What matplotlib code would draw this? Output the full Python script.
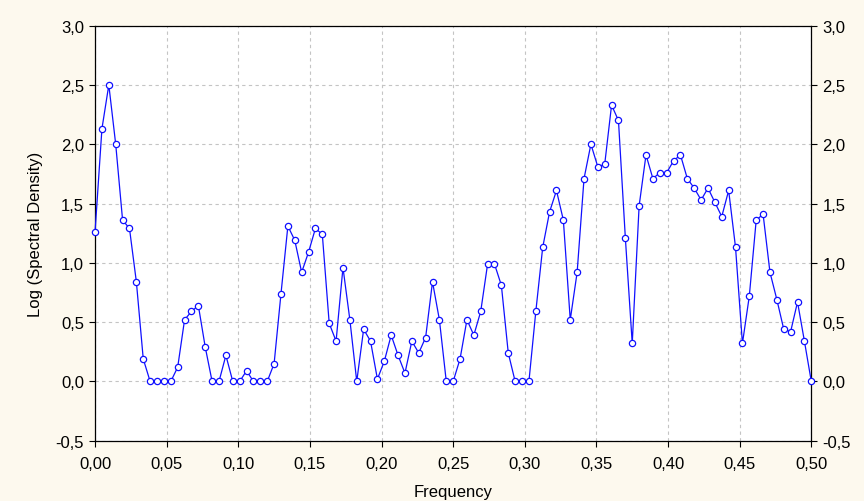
import numpy as np
import matplotlib.pyplot as plt

# Log spectral density, 105 ordinates from 0 to 0.5
log_density = [
    1.26, 2.13, 2.50, 2.00, 1.36, 1.29, 0.84, 0.19, 0.00, 0.00,
    0.00, 0.00, 0.12, 0.52, 0.59, 0.64, 0.29, 0.00, 0.00, 0.22,
    0.00, 0.00, 0.09, 0.00, 0.00, 0.00, 0.15, 0.74, 1.31, 1.19,
    0.92, 1.09, 1.29, 1.24, 0.49, 0.34, 0.96, 0.52, 0.00, 0.44,
    0.34, 0.02, 0.17, 0.39, 0.22, 0.07, 0.34, 0.24, 0.37, 0.84,
    0.52, 0.00, 0.00, 0.19, 0.52, 0.39, 0.59, 0.99, 0.99, 0.81,
    0.24, 0.00, 0.00, 0.00, 0.59, 1.13, 1.43, 1.61, 1.36, 0.52,
    0.92, 1.71, 2.00, 1.81, 1.83, 2.33, 2.20, 1.21, 0.32, 1.48,
    1.91, 1.71, 1.76, 1.76, 1.86, 1.91, 1.71, 1.63, 1.53, 1.63,
    1.51, 1.39, 1.61, 1.13, 0.32, 0.72, 1.36, 1.41, 0.92, 0.69,
    0.44, 0.42, 0.67, 0.34, 0.00,
]
# Fourier frequencies k/208
frequency = np.arange(len(log_density)) / 208

x_ticks = [0.00, 0.05, 0.10, 0.15, 0.20, 0.25, 0.30, 0.35, 0.40, 0.45, 0.50]
y_ticks = [-0.5, 0.0, 0.5, 1.0, 1.5, 2.0, 2.5, 3.0]

plt.rcParams['font.family'] = ['Liberation Sans', 'DejaVu Sans']

fig = plt.figure(figsize=(8.64, 5.02), dpi=100)
fig.patch.set_facecolor('#fdf9ee')
ax = fig.add_axes([0.110, 0.120, 0.829, 0.827])
ax.set_facecolor('white')

ax.plot(frequency, log_density, color='#1010ff', linewidth=0.9,
        marker='o', markersize=4.5, markerfacecolor='white',
        markeredgecolor='#1010ff', markeredgewidth=0.9, clip_on=False, zorder=3)

ax.set_xlim(0, 0.5)
ax.set_ylim(-0.5, 3.0)
ax.set_xticks(x_ticks)
ax.set_yticks(y_ticks)
ax.set_xticklabels([f'{t:.2f}'.replace('.', ',') for t in x_ticks])
ax.set_yticklabels([f'{t:.1f}'.replace('.', ',') for t in y_ticks])

ax.grid(True, color='#c4c4c4', linestyle=(0, (3, 3)), linewidth=0.8)
ax.tick_params(axis='both', direction='out', length=4, width=0.8,
               labelsize=12, colors='black', pad=4)
ax.tick_params(axis='x', pad=7)
ax.tick_params(axis='y', right=True, labelright=True)
for s in ax.spines.values():
    s.set_linewidth(0.9)
    s.set_color('black')

ax.set_xlabel('Frequency', fontsize=12, labelpad=9)
ax.set_ylabel('Log (Spectral Density)', fontsize=12, labelpad=9)

fig.savefig('out.png', dpi=100, facecolor=fig.get_facecolor())
